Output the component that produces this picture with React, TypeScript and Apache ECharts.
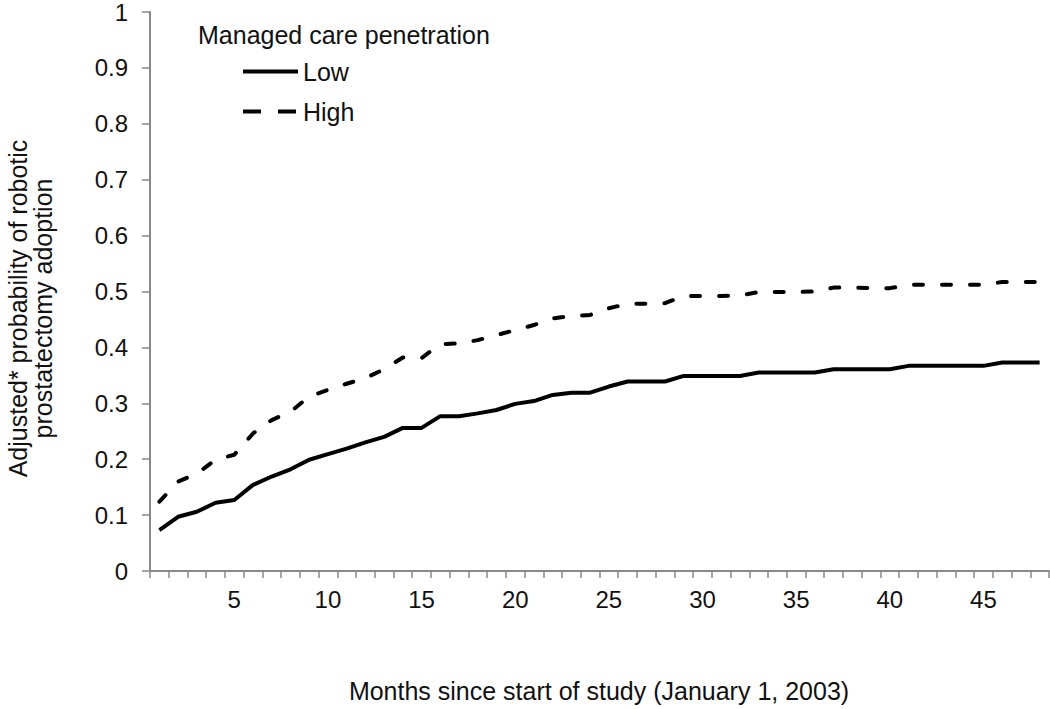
import React, { useEffect, useRef } from "react";
import * as echarts from "echarts";

const months: string[] = Array.from({ length: 48 }, (_, i) => String(i + 1));

const lowValues: number[] = [
  0.073, 0.097, 0.106, 0.122, 0.127, 0.154, 0.169, 0.182, 0.199, 0.209,
  0.219, 0.230, 0.240, 0.256, 0.256, 0.277, 0.277, 0.282, 0.288, 0.299,
  0.304, 0.315, 0.319, 0.319, 0.330, 0.339, 0.339, 0.339, 0.349, 0.349,
  0.349, 0.349, 0.355, 0.355, 0.355, 0.355, 0.361, 0.361, 0.361, 0.361,
  0.367, 0.367, 0.367, 0.367, 0.367, 0.373, 0.373, 0.373,
];

const highValues: number[] = [
  0.124, 0.160, 0.174, 0.199, 0.208, 0.246, 0.270, 0.285, 0.312, 0.324,
  0.335, 0.345, 0.361, 0.382, 0.381, 0.406, 0.407, 0.413, 0.422, 0.431,
  0.440, 0.452, 0.456, 0.458, 0.470, 0.478, 0.478, 0.479, 0.492, 0.492,
  0.492, 0.493, 0.499, 0.499, 0.499, 0.500, 0.507, 0.507, 0.506, 0.506,
  0.512, 0.512, 0.512, 0.512, 0.512, 0.517, 0.517, 0.517,
];

const seriesNames = ["Low", "High"];
const legendTitle = "Managed care penetration";
const xTitle = "Months since start of study (January 1, 2003)";
const yTitleLines = ["Adjusted* probability of robotic", "prostatectomy adoption"];

const FONT = "'Liberation Sans', Arial, sans-serif";
const AXIS_COLOR = "#888888";
const TEXT_COLOR = "#111111";

const solidIcon = "path://M0,0h55v4h-55z";
const dashIcon = "path://M0,0h18v4h-18zM35,0h18v4h-18zM54.9,0h0.1v0.01h-0.1z";

export default function App() {
  const ref = useRef<HTMLDivElement | null>(null);

  useEffect(() => {
    if (!ref.current) return;
    const chart = echarts.init(ref.current, undefined, { renderer: "svg" });
    chart.setOption({
      animation: false,
      backgroundColor: "#ffffff",
      textStyle: { fontFamily: FONT },
      grid: { left: 150, right: 1, top: 12, bottom: 138, containLabel: false },
      legend: {
        orient: "vertical",
        left: 238,
        top: 54,
        itemWidth: 55,
        itemHeight: 4,
        itemGap: 15,
        data: [
          { name: seriesNames[0], icon: solidIcon },
          { name: seriesNames[1], icon: dashIcon },
        ],
        itemStyle: { color: "#000", borderWidth: 0 },
        textStyle: { fontFamily: FONT, fontSize: 25, color: TEXT_COLOR },
      },
      xAxis: {
        type: "category",
        data: months,
        boundaryGap: true,
        axisLine: { lineStyle: { color: AXIS_COLOR, width: 2 } },
        axisTick: {
          show: true,
          interval: 0,
          alignWithLabel: false,
          length: 7,
          lineStyle: { color: AXIS_COLOR, width: 1.5 },
        },
        axisLabel: {
          interval: (_idx: number, val: string) => Number(val) % 5 === 0,
          margin: 16,
          fontSize: 24,
          fontFamily: FONT,
          color: TEXT_COLOR,
        },
        splitLine: { show: false },
      },
      yAxis: {
        type: "value",
        min: 0,
        max: 1,
        interval: 0.1,
        axisLine: { show: true, lineStyle: { color: AXIS_COLOR, width: 2 } },
        axisTick: { show: true, length: 8, lineStyle: { color: AXIS_COLOR, width: 1.5 } },
        axisLabel: {
          margin: 22,
          fontSize: 24,
          fontFamily: FONT,
          color: TEXT_COLOR,
          formatter: (v: number) => String(Math.round(v * 10) / 10),
        },
        splitLine: { show: false },
      },
      graphic: [
        {
          type: "text",
          left: 198,
          top: 22,
          style: { text: legendTitle, font: `25px ${FONT}`, fill: TEXT_COLOR },
        },
        {
          type: "text",
          x: 599,
          y: 691,
          style: {
            text: xTitle,
            font: `25px ${FONT}`,
            fill: TEXT_COLOR,
            align: "center",
            verticalAlign: "middle",
          },
        },
        {
          type: "text",
          x: 30.5,
          y: 308.5,
          rotation: Math.PI / 2,
          style: {
            text: yTitleLines.join("\n"),
            font: `25px ${FONT}`,
            fill: TEXT_COLOR,
            align: "center",
            verticalAlign: "middle",
            lineHeight: 25,
          },
        },
      ],
      series: [
        {
          name: seriesNames[0],
          type: "line",
          data: lowValues,
          symbol: "none",
          lineStyle: { color: "#000", width: 4, type: "solid", join: "round" },
          itemStyle: { color: "#000" },
        },
        {
          name: seriesNames[1],
          type: "line",
          data: highValues,
          symbol: "none",
          lineStyle: { color: "#000", width: 4, type: [9, 19], cap: "round", join: "round" },
          itemStyle: { color: "#000" },
        },
      ],
    });
    return () => chart.dispose();
  }, []);

  return (
    <div
      ref={ref}
      style={{ position: "fixed", left: 0, top: 0, width: 1050, height: 709, background: "#fff" }}
    />
  );
}
